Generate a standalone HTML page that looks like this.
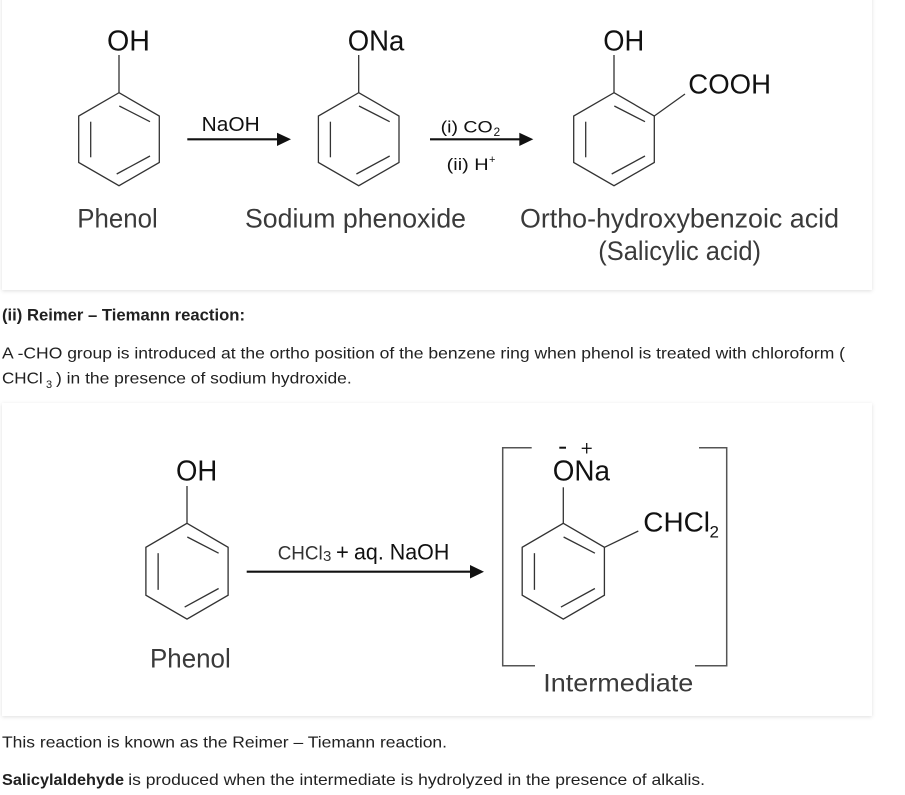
<!DOCTYPE html>
<html>
<head>
<meta charset="utf-8">
<style>
  html, body { margin:0; padding:0; background:#fff; }
  body { width:905px; height:795px; position:relative; overflow:hidden; }
  .panel { position:absolute; background:#fff; box-shadow:0 1px 4px rgba(0,0,0,0.13); }
  svg { position:absolute; left:0; top:0; }
  text { font-family:"Liberation Sans", Arial, sans-serif; }
</style>
</head>
<body>
<div class="panel" style="left:2px; top:-20px; width:870px; height:310px;"></div>
<div class="panel" style="left:2px; top:403px; width:870px; height:313px;"></div>

<svg width="905" height="795" viewBox="0 0 905 795" xmlns="http://www.w3.org/2000/svg">
  <defs>
    <g id="ring">
      <polygon points="0,-46.5 40.3,-23.2 40.3,23.3 0,46.5 -40.3,23.3 -40.3,-23.2" fill="none" stroke="#333" stroke-width="1.3" stroke-linejoin="miter"/>
      <line x1="0.3" y1="-33.2" x2="31" y2="-17.5" stroke="#333" stroke-width="1.3"/>
      <line x1="-28.3" y1="-17.5" x2="-28.3" y2="18.1" stroke="#333" stroke-width="1.3"/>
      <line x1="-2.3" y1="34.8" x2="31" y2="16.8" stroke="#333" stroke-width="1.3"/>
    </g>
  </defs>

  <!-- ===== Top diagram ===== -->
  <!-- Phenol -->
  <use href="#ring" transform="translate(119,139.2)"/>
  <line x1="119" y1="92.7" x2="119" y2="55" stroke="#333" stroke-width="1.3"/>
  <text x="107" y="50.7" font-size="29" fill="#111" textLength="43" lengthAdjust="spacingAndGlyphs">OH</text>

  <!-- Arrow 1 -->
  <line x1="187.3" y1="139.3" x2="278" y2="139.3" stroke="#111" stroke-width="2.2"/>
  <polygon points="277,132.7 291,139.3 277,146" fill="#111"/>
  <text x="201.7" y="131" font-size="20" fill="#111" textLength="58" lengthAdjust="spacingAndGlyphs">NaOH</text>

  <!-- Sodium phenoxide -->
  <use href="#ring" transform="translate(358.7,139.2)"/>
  <line x1="358.7" y1="92.7" x2="358.7" y2="55" stroke="#333" stroke-width="1.3"/>
  <text x="347.7" y="50.7" font-size="29" fill="#111" textLength="56.6" lengthAdjust="spacingAndGlyphs">ONa</text>

  <!-- Arrow 2 -->
  <line x1="430" y1="139.3" x2="520" y2="139.3" stroke="#111" stroke-width="2.2"/>
  <polygon points="519.3,132.7 533.3,139.3 519.3,146" fill="#111"/>
  <text x="440.7" y="132.3" font-size="17" fill="#111" textLength="52" lengthAdjust="spacingAndGlyphs">(i) CO</text>
  <text x="493.5" y="136" font-size="12" fill="#111">2</text>
  <text x="446.7" y="170" font-size="17" fill="#111" textLength="42" lengthAdjust="spacingAndGlyphs">(ii) H</text>
  <text x="489" y="163" font-size="11" fill="#111">+</text>

  <!-- Salicylic acid -->
  <use href="#ring" transform="translate(614,139.2)"/>
  <line x1="614" y1="92.7" x2="614" y2="55" stroke="#333" stroke-width="1.3"/>
  <line x1="654.3" y1="116" x2="685" y2="94" stroke="#333" stroke-width="1.3"/>
  <text x="603.3" y="50.7" font-size="29" fill="#111" textLength="41" lengthAdjust="spacingAndGlyphs">OH</text>
  <text x="688.3" y="93.3" font-size="28" fill="#111" textLength="82.7" lengthAdjust="spacingAndGlyphs">COOH</text>

  <!-- Labels -->
  <text x="77.3" y="227.7" font-size="26.5" fill="#3a3a3a" textLength="80.4" lengthAdjust="spacingAndGlyphs">Phenol</text>
  <text x="245" y="227.7" font-size="26.5" fill="#3a3a3a" textLength="221" lengthAdjust="spacingAndGlyphs">Sodium phenoxide</text>
  <text x="520" y="227.7" font-size="26.5" fill="#3a3a3a" textLength="319" lengthAdjust="spacingAndGlyphs">Ortho-hydroxybenzoic acid</text>
  <text x="598.3" y="260" font-size="26.5" fill="#3a3a3a" textLength="162.7" lengthAdjust="spacingAndGlyphs">(Salicylic acid)</text>

  <!-- ===== Middle text ===== -->
  <text x="2" y="320.7" font-size="16.5" font-weight="bold" fill="#212121" textLength="243" lengthAdjust="spacingAndGlyphs">(ii) Reimer – Tiemann reaction:</text>
  <text x="2" y="358.3" font-size="16" fill="#212121" textLength="843" lengthAdjust="spacingAndGlyphs">A -CHO group is introduced at the ortho position of the benzene ring when phenol is treated with chloroform (</text>
  <text x="2" y="383.3" font-size="16" fill="#212121" textLength="40.7" lengthAdjust="spacingAndGlyphs">CHCl</text>
  <text x="46" y="388" font-size="11" fill="#212121">3</text>
  <text x="56" y="383.3" font-size="16" fill="#212121" textLength="295.7" lengthAdjust="spacingAndGlyphs">) in the presence of sodium hydroxide.</text>

  <!-- ===== Bottom diagram ===== -->
  <!-- Phenol -->
  <use href="#ring" transform="translate(187,571.2) scale(1.02,1.03)"/>
  <line x1="187" y1="523.3" x2="187" y2="486" stroke="#333" stroke-width="1.3"/>
  <text x="176" y="480.7" font-size="29" fill="#111" textLength="41.3" lengthAdjust="spacingAndGlyphs">OH</text>
  <text x="150" y="667.7" font-size="26.5" fill="#3a3a3a" textLength="80.7" lengthAdjust="spacingAndGlyphs">Phenol</text>

  <!-- Arrow 3 -->
  <line x1="246.7" y1="571.7" x2="471" y2="571.7" stroke="#111" stroke-width="2.2"/>
  <polygon points="470,565 484,571.7 470,578.5" fill="#111"/>
  <text x="277.7" y="559.3" font-size="19" fill="#333" textLength="45" lengthAdjust="spacingAndGlyphs">CHCl</text>
  <text x="323" y="561" font-size="15" fill="#333">3</text>
  <text x="336" y="559.3" font-size="22" fill="#111">+</text>
  <text x="354" y="559.3" font-size="22" fill="#111" textLength="95.3" lengthAdjust="spacingAndGlyphs">aq. NaOH</text>

  <!-- Brackets -->
  <polyline points="531.7,447.7 502.7,447.7 502.7,665.7 535,665.7" fill="none" stroke="#555" stroke-width="1.5"/>
  <polyline points="699,447.7 726.7,447.7 726.7,665.7 695,665.7" fill="none" stroke="#555" stroke-width="1.5"/>

  <!-- Intermediate -->
  <use href="#ring" transform="translate(563.3,571.2) scale(1.02,1.03)"/>
  <line x1="563.3" y1="523.3" x2="563.3" y2="487.3" stroke="#333" stroke-width="1.3"/>
  <line x1="604.5" y1="547.3" x2="638.3" y2="531" stroke="#333" stroke-width="1.3"/>
  <text x="552.7" y="480.7" font-size="29" fill="#111" textLength="57.3" lengthAdjust="spacingAndGlyphs">ONa</text>
  <line x1="559.3" y1="447.7" x2="566" y2="447.7" stroke="#111" stroke-width="2"/>
  <line x1="581.7" y1="448.3" x2="591.7" y2="448.3" stroke="#111" stroke-width="1.3"/>
  <line x1="586.7" y1="443" x2="586.7" y2="453.5" stroke="#111" stroke-width="1.3"/>
  <text x="643.3" y="531.7" font-size="28" fill="#111" textLength="66.7" lengthAdjust="spacingAndGlyphs">CHCl</text>
  <text x="709.5" y="537.5" font-size="17" fill="#111">2</text>
  <text x="543.3" y="691.7" font-size="25" fill="#3a3a3a" textLength="150" lengthAdjust="spacingAndGlyphs">Intermediate</text>

  <!-- ===== Bottom text ===== -->
  <text x="2" y="747.7" font-size="16" fill="#212121" textLength="445" lengthAdjust="spacingAndGlyphs">This reaction is known as the Reimer – Tiemann reaction.</text>
  <text x="2" y="785" font-size="16" font-weight="bold" fill="#212121" textLength="122" lengthAdjust="spacingAndGlyphs">Salicylaldehyde</text>
  <text x="128.3" y="785" font-size="16" fill="#212121" textLength="576.7" lengthAdjust="spacingAndGlyphs">is produced when the intermediate is hydrolyzed in the presence of alkalis.</text>
</svg>
</body>
</html>
